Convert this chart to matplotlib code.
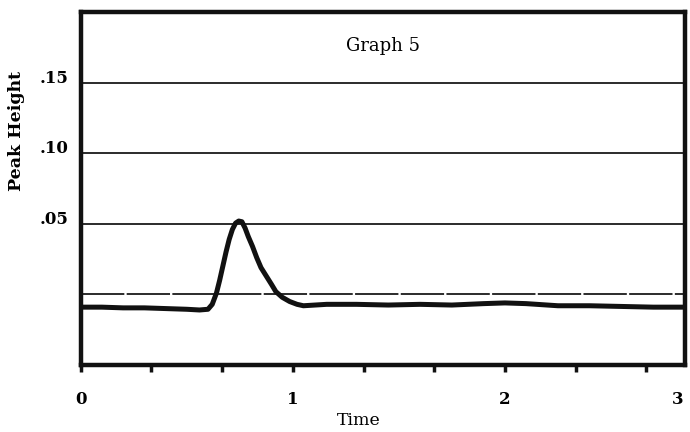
import matplotlib
matplotlib.use("Agg")
import matplotlib.pyplot as plt
from matplotlib.ticker import FixedLocator

# trace
time = [0.0, 0.1, 0.2, 0.3, 0.4, 0.5, 0.56, 0.6, 0.62, 0.64, 0.655, 0.67, 0.685,
        0.70, 0.715, 0.73, 0.745, 0.76, 0.775, 0.79, 0.81, 0.83, 0.85, 0.875,
        0.90, 0.92, 0.95, 0.985, 1.02, 1.05, 1.16, 1.3, 1.45, 1.6, 1.75,
        1.9, 2.0, 2.1, 2.25, 2.4, 2.55, 2.7, 2.85]
peak_height = [-0.009, -0.009, -0.0095, -0.0095, -0.010, -0.0105, -0.011, -0.0105,
               -0.007, 0.001, 0.010, 0.020, 0.030, 0.039, 0.046, 0.0505, 0.052,
               0.0515, 0.047, 0.041, 0.034, 0.026, 0.019, 0.013, 0.007, 0.002,
               -0.002, -0.005, -0.007, -0.008, -0.007, -0.007, -0.0075, -0.007,
               -0.0075, -0.0065, -0.006, -0.0065, -0.008, -0.008, -0.0085,
               -0.009, -0.009]

grid_levels = [0.0, 0.05, 0.10, 0.15]
ytick_pos = [0.05, 0.10, 0.15]
ytick_labels = ['.05', '.10', '.15']
xtick_pos = [0, 1, 2]
xtick_labels = ['0', '1', '2']
minor_x = [1/3, 2/3, 4/3, 5/3, 7/3, 8/3]

plt.rcParams['font.family'] = ['DejaVu Serif']

fig = plt.figure(figsize=(6.9, 4.32), dpi=100)
ax = fig.add_axes([0.117, 0.155, 0.876, 0.817])

# horizontal rules, the zero one is broken up a little
for lvl in grid_levels:
    ax.axhline(lvl, color='#1a1a1a', lw=1.3,
               ls='-' if lvl else (0, (24, 1.3)), zorder=1)

ax.plot(time, peak_height, color='#111111', lw=3.6,
        solid_capstyle='round', solid_joinstyle='round', zorder=3)

ax.set_xlim(0, 2.85)
ax.set_ylim(-0.05, 0.20)

for s in ax.spines.values():
    s.set_linewidth(3.2)
    s.set_color('#111111')

ax.set_yticks(ytick_pos)
ax.set_yticklabels(ytick_labels, fontsize=12, fontweight='bold')
for lab in ax.get_yticklabels():
    lab.set_va('baseline')
ax.tick_params(axis='y', length=0, pad=9)

ax.set_xticks(xtick_pos)
ax.set_xticklabels(xtick_labels, fontsize=12, fontweight='bold')
ax.xaxis.set_minor_locator(FixedLocator(minor_x))
ax.tick_params(axis='x', which='both', direction='out', length=5, width=2.5,
               pad=14, color='#111111')
# the "3" sits at the cut-off right edge
ax.annotate('3', xy=(1.0, 0), xycoords='axes fraction', xytext=(-1, -19),
            textcoords='offset points', ha='right', va='top',
            fontsize=12, fontweight='bold')

ax.set_xlabel('Time', fontsize=12.5)
ax.xaxis.set_label_coords(0.46, -0.133)
ax.set_ylabel('Peak Height', fontsize=12.5, fontweight='bold')
ax.yaxis.set_label_coords(-0.093, 0.663)
ax.text(0.5, 0.905, 'Graph 5', transform=ax.transAxes, ha='center', va='center',
        fontsize=13)

fig.savefig('out.png', dpi=100, facecolor='white')
